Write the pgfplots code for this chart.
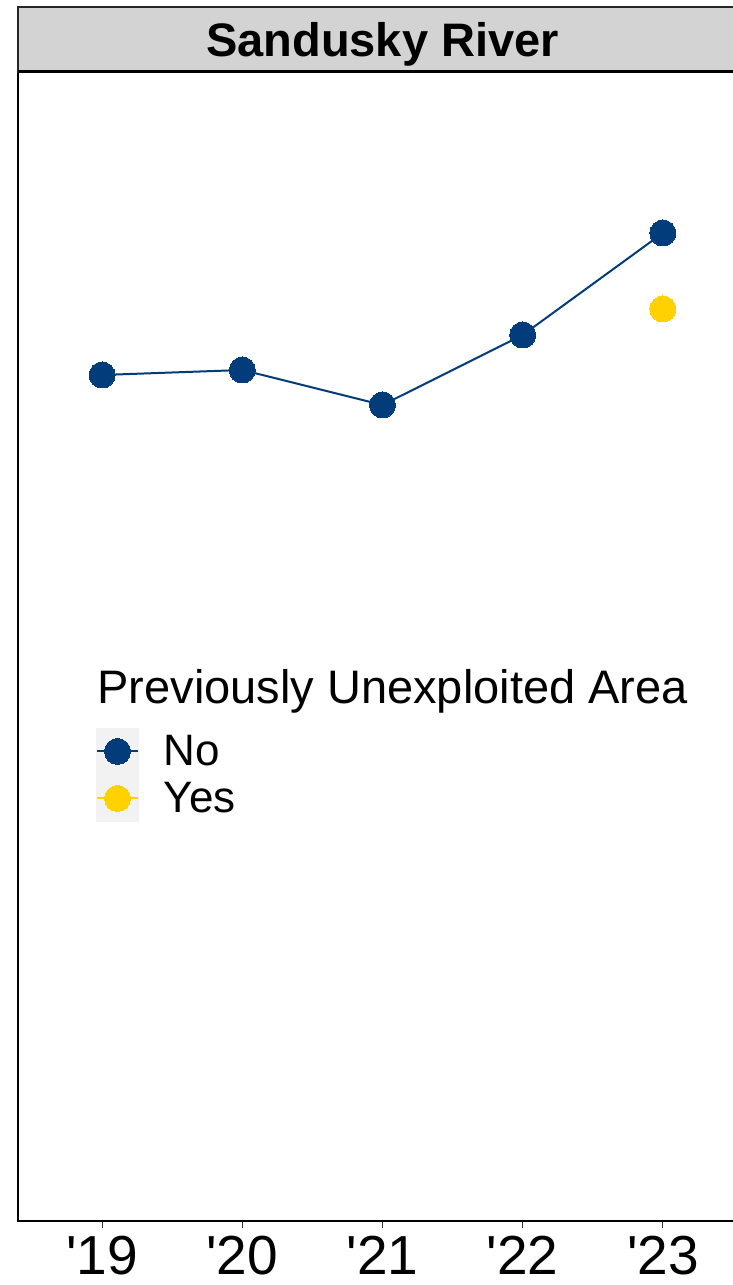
\documentclass[border=0pt]{standalone}
\usepackage{pgfplots}
\pgfplotsset{compat=1.18}
\usepackage{fontspec}
\setmainfont{Liberation Sans}
\definecolor{navy}{HTML}{023C7B}
\definecolor{gold}{HTML}{FFD100}
\definecolor{legbg}{HTML}{F2F2F2}
\definecolor{stripgray}{HTML}{D3D3D3}
\begin{document}
\begin{tikzpicture}
\path[use as bounding box] (-9pt,-32pt) rectangle (357.5pt,610.5pt);
\clip (-9pt,-32pt) rectangle (357.5pt,610.5pt);
\begin{axis}[
  at={(0pt,0pt)}, anchor=south west,
  scale only axis, width=364.5pt, height=574.5pt,
  xmin=2018.4, xmax=2023.6, ymin=0, ymax=114.9,
  xtick={2019,2020,2021,2022,2023},
  xticklabels={\textquotesingle19,\textquotesingle20,\textquotesingle21,\textquotesingle22,\textquotesingle23},
  ytick=\empty,
  xtick pos=lower,
  tick align=outside, major tick length=3.5pt,
  every tick/.style={draw=black!80, line width=0.6pt},
  xticklabel style={font=\fontsize{27.5}{30}\selectfont, inner sep=0pt, yshift=-4pt},
  axis line style={line width=1pt},
  legend style={at={(axis description cs:0.107,0.4291)}, anchor=north west,
    draw=none, fill=none, inner sep=0pt, outer sep=0pt,
    font=\fontsize{22}{26}\selectfont, row sep=0pt,
    nodes={inner sep=0pt},
    /tikz/every odd column/.append style={column sep=12.5pt}},
  legend cell align=left,
  legend image code/.code={
    \fill[legbg] (-10.25pt,-11.25pt) rectangle (10.25pt,11.25pt);
    \draw[mark repeat=2,mark phase=2,#1] plot coordinates {(-10.25pt,0pt) (0pt,0pt) (10.25pt,0pt)};
  },
]
\addplot[color=navy, line width=1pt, mark=*, mark size=6.5pt,
  mark options={fill=navy, draw=navy, line width=0pt}]
  coordinates {(2019,84.6) (2020,85.1) (2021,81.6) (2022,88.6) (2023,98.8)};
\addlegendentry{No}
\addplot[color=gold, line width=1pt, mark=*, mark size=6.5pt,
  mark options={fill=gold, draw=gold, line width=0pt}]
  coordinates {(2023,91.2)};
\addlegendentry{Yes}
\node[anchor=base west, font=\fontsize{23.5}{28}\selectfont, inner sep=0pt]
  at (axis description cs:0.1084,0.4508) {Previously Unexploited Area};
\end{axis}
\draw[fill=stripgray, draw=black!85, line width=1pt] (0pt,574.5pt) rectangle (364.5pt,607pt);
\draw[line width=1.5pt] (0pt,574.5pt) -- (364.5pt,574.5pt);
\node[anchor=base, font=\bfseries\fontsize{23.5}{28}\selectfont, inner sep=0pt]
  at (182.25pt,582.25pt) {Sandusky River};
\end{tikzpicture}
\end{document}
